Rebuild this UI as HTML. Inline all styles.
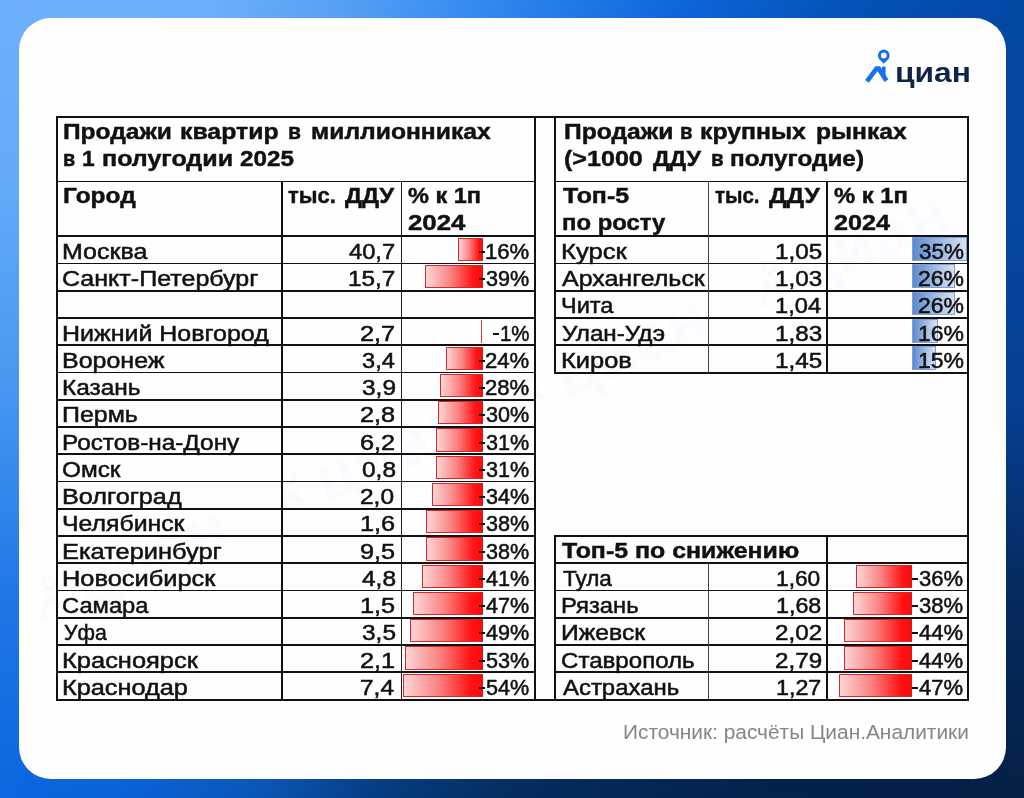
<!DOCTYPE html>
<html lang="ru"><head><meta charset="utf-8"><title>Циан</title>
<style>
html,body{margin:0;padding:0}
body{width:1024px;height:798px;overflow:hidden;position:relative;font-family:"Liberation Sans",sans-serif;color:#111;background:#0d5fd6}
.bg{position:absolute;left:0;top:0;width:1024px;height:798px}
.bg1{background:linear-gradient(90deg,#0a66e0 0%,#0a62d8 12%,#0b56b8 25%,#063c80 37%,#052c5e 50%,#04224a 75%,#042046 100%)}
.bg2{background:linear-gradient(90deg,#6eb1fa 0%,#6cb0fa 20%,#57a1f5 33%,#2f86ee 49%,#0e66dc 66%,#0452b6 83%,#0448a6 100%);
-webkit-mask-image:linear-gradient(180deg,#000 0%,rgba(0,0,0,.9) 25%,rgba(0,0,0,.72) 50%,rgba(0,0,0,.24) 75%,transparent 100%);mask-image:linear-gradient(180deg,#000 0%,rgba(0,0,0,.9) 25%,rgba(0,0,0,.72) 50%,rgba(0,0,0,.24) 75%,transparent 100%)}
.bgL{position:absolute;left:0;top:0;width:19px;height:798px;background:linear-gradient(180deg,#6eb1fa 0%,#62a9f8 25%,#4596f1 50%,#1f76e6 75%,#0b66df 100%)}
.bgR{position:absolute;right:0;top:0;width:19px;height:798px;background:linear-gradient(180deg,#0448a6 0%,#0447a4 25%,#063f94 50%,#052a5c 75%,#042046 100%)}
.card{position:absolute;left:18.5px;top:18px;width:987px;height:761px;border-radius:32px;background:#fefefe}
.wmc{position:absolute;left:18.5px;top:18px;width:987px;height:761px;border-radius:32px;overflow:hidden}
.wm{position:absolute;left:-360px;top:340px;width:1700px;height:80px;line-height:80px;transform:rotate(-23.6deg) translateX(62px);transform-origin:50% 50%;white-space:nowrap;font-weight:bold;font-size:66px;color:rgba(60,140,240,0.026);letter-spacing:1px}
.wu{display:inline-block;width:262px}
.l{position:absolute;display:block}
.t{position:absolute;white-space:nowrap;line-height:1;display:block;font-size:21.3px;transform-origin:0 50%;-webkit-text-stroke:0.3px #111}
.bn{position:absolute;display:block;box-sizing:border-box;border:1px solid #d92626;border-right-color:#c81e1e;background:linear-gradient(90deg,#fcd6d6 0%,#fb8080 45%,#ff1414 85%,#ff0a0a 100%)}
.bp{position:absolute;display:block;box-sizing:border-box;border:1px solid #7f9fd6;background:linear-gradient(90deg,#5b8ad0 0%,#a3bce4 55%,#d6e1f3 100%)}
</style></head><body>
<div class="bg bg1"></div><div class="bg bg2"></div><div class="bgL"></div><div class="bgR"></div>
<div class="card"></div>
<div class="wmc"><div class="wm"><span class="wu"><svg width="46" height="62" viewBox="0 0 36 44" style="vertical-align:-6px;margin-right:8px"><circle cx="23.8" cy="11.4" r="4.35" fill="none" stroke="currentColor" stroke-width="3"/><path d="M19.2 15 L23.8 19.8 L28.4 15 Z" fill="currentColor"/><path d="M7 37.4 L17.8 22.9 L26.4 36.8" fill="none" stroke="currentColor" stroke-width="4.7"/><rect x="22" y="22.5" width="3.6" height="10" fill="currentColor"/></svg>циан</span><span class="wu"><svg width="46" height="62" viewBox="0 0 36 44" style="vertical-align:-6px;margin-right:8px"><circle cx="23.8" cy="11.4" r="4.35" fill="none" stroke="currentColor" stroke-width="3"/><path d="M19.2 15 L23.8 19.8 L28.4 15 Z" fill="currentColor"/><path d="M7 37.4 L17.8 22.9 L26.4 36.8" fill="none" stroke="currentColor" stroke-width="4.7"/><rect x="22" y="22.5" width="3.6" height="10" fill="currentColor"/></svg>циан</span><span class="wu"><svg width="46" height="62" viewBox="0 0 36 44" style="vertical-align:-6px;margin-right:8px"><circle cx="23.8" cy="11.4" r="4.35" fill="none" stroke="currentColor" stroke-width="3"/><path d="M19.2 15 L23.8 19.8 L28.4 15 Z" fill="currentColor"/><path d="M7 37.4 L17.8 22.9 L26.4 36.8" fill="none" stroke="currentColor" stroke-width="4.7"/><rect x="22" y="22.5" width="3.6" height="10" fill="currentColor"/></svg>циан</span><span class="wu"><svg width="46" height="62" viewBox="0 0 36 44" style="vertical-align:-6px;margin-right:8px"><circle cx="23.8" cy="11.4" r="4.35" fill="none" stroke="currentColor" stroke-width="3"/><path d="M19.2 15 L23.8 19.8 L28.4 15 Z" fill="currentColor"/><path d="M7 37.4 L17.8 22.9 L26.4 36.8" fill="none" stroke="currentColor" stroke-width="4.7"/><rect x="22" y="22.5" width="3.6" height="10" fill="currentColor"/></svg>циан</span><span class="wu"><svg width="46" height="62" viewBox="0 0 36 44" style="vertical-align:-6px;margin-right:8px"><circle cx="23.8" cy="11.4" r="4.35" fill="none" stroke="currentColor" stroke-width="3"/><path d="M19.2 15 L23.8 19.8 L28.4 15 Z" fill="currentColor"/><path d="M7 37.4 L17.8 22.9 L26.4 36.8" fill="none" stroke="currentColor" stroke-width="4.7"/><rect x="22" y="22.5" width="3.6" height="10" fill="currentColor"/></svg>циан</span></div></div>
<svg class="l" style="left:860px;top:44px" width="36" height="44" viewBox="0 0 36 44">
<defs><clipPath id="cp"><rect x="0" y="22.3" width="36" height="22"/></clipPath></defs>
<circle cx="23.8" cy="11.4" r="4.35" fill="none" stroke="#1a6de6" stroke-width="3"/>
<path d="M19.2 15.0 L23.8 19.8 L28.4 15.0 Z" fill="#1a6de6"/>
<g clip-path="url(#cp)"><path d="M7.0 37.4 L17.8 22.9 L26.4 36.8" fill="none" stroke="#1673ee" stroke-width="4.7" stroke-linejoin="miter" stroke-miterlimit="10"/></g>
<rect x="22.0" y="22.5" width="3.6" height="10" fill="#1673ee"/>
</svg>
<i class="bn" style="left:457.62px;top:237.70px;width:25.18px;height:23.15px"></i>
<i class="bn" style="left:424.73px;top:264.95px;width:58.07px;height:23.15px"></i>
<i class="l" style="left:480.80px;top:320.04px;width:1.7px;height:23.25px;background:#d23c3c"></i>
<i class="bn" style="left:446.18px;top:346.69px;width:36.62px;height:23.15px"></i>
<i class="bn" style="left:440.46px;top:373.94px;width:42.34px;height:23.15px"></i>
<i class="bn" style="left:437.60px;top:401.18px;width:45.20px;height:23.15px"></i>
<i class="bn" style="left:436.17px;top:428.43px;width:46.63px;height:23.15px"></i>
<i class="bn" style="left:436.17px;top:455.68px;width:46.63px;height:23.15px"></i>
<i class="bn" style="left:431.88px;top:482.92px;width:50.92px;height:23.15px"></i>
<i class="bn" style="left:426.16px;top:510.17px;width:56.64px;height:23.15px"></i>
<i class="bn" style="left:426.16px;top:537.42px;width:56.64px;height:23.15px"></i>
<i class="bn" style="left:421.87px;top:564.66px;width:60.93px;height:23.15px"></i>
<i class="bn" style="left:413.29px;top:591.91px;width:69.51px;height:23.15px"></i>
<i class="bn" style="left:410.43px;top:619.16px;width:72.37px;height:23.15px"></i>
<i class="bn" style="left:404.71px;top:646.41px;width:78.09px;height:23.15px"></i>
<i class="bn" style="left:403.28px;top:673.65px;width:79.52px;height:23.15px"></i>
<i class="bp" style="left:912.20px;top:237.20px;width:54.80px;height:23.65px"></i>
<i class="bp" style="left:912.20px;top:264.45px;width:42.60px;height:23.65px"></i>
<i class="bp" style="left:912.20px;top:291.69px;width:42.60px;height:23.65px"></i>
<i class="bp" style="left:912.20px;top:318.94px;width:25.70px;height:23.65px"></i>
<i class="bp" style="left:912.20px;top:346.19px;width:24.30px;height:23.65px"></i>
<i class="bn" style="left:856.16px;top:564.66px;width:56.34px;height:23.15px"></i>
<i class="bn" style="left:853.03px;top:591.91px;width:59.47px;height:23.15px"></i>
<i class="bn" style="left:843.64px;top:619.16px;width:68.86px;height:23.15px"></i>
<i class="bn" style="left:843.64px;top:646.41px;width:68.86px;height:23.15px"></i>
<i class="bn" style="left:838.95px;top:673.65px;width:73.55px;height:23.15px"></i>
<i class="l" style="left:56.00px;top:115.50px;width:913.00px;height:2px;background:#111"></i>
<i class="l" style="left:56.00px;top:698.50px;width:913.00px;height:2px;background:#111"></i>
<i class="l" style="left:56.00px;top:116.50px;width:2px;height:583.00px;background:#111"></i>
<i class="l" style="left:534.00px;top:116.50px;width:2px;height:583.00px;background:#111"></i>
<i class="l" style="left:967.00px;top:116.50px;width:2px;height:583.00px;background:#111"></i>
<i class="l" style="left:554.00px;top:116.50px;width:2px;height:256.04px;background:#111"></i>
<i class="l" style="left:554.00px;top:536.02px;width:2px;height:163.48px;background:#111"></i>
<i class="l" style="left:57.00px;top:180.70px;width:478.00px;height:1.6px;background:#111"></i>
<i class="l" style="left:57.00px;top:235.30px;width:478.00px;height:2px;background:#111"></i>
<i class="l" style="left:57.00px;top:262.70px;width:478.00px;height:1.7px;background:#111"></i>
<i class="l" style="left:57.00px;top:289.94px;width:478.00px;height:1.7px;background:#111"></i>
<i class="l" style="left:57.00px;top:317.19px;width:478.00px;height:1.7px;background:#111"></i>
<i class="l" style="left:57.00px;top:344.44px;width:478.00px;height:1.7px;background:#111"></i>
<i class="l" style="left:57.00px;top:371.69px;width:478.00px;height:1.7px;background:#111"></i>
<i class="l" style="left:57.00px;top:398.93px;width:478.00px;height:1.7px;background:#111"></i>
<i class="l" style="left:57.00px;top:426.18px;width:478.00px;height:1.7px;background:#111"></i>
<i class="l" style="left:57.00px;top:453.43px;width:478.00px;height:1.7px;background:#111"></i>
<i class="l" style="left:57.00px;top:480.67px;width:478.00px;height:1.7px;background:#111"></i>
<i class="l" style="left:57.00px;top:507.92px;width:478.00px;height:1.7px;background:#111"></i>
<i class="l" style="left:57.00px;top:535.17px;width:478.00px;height:1.7px;background:#111"></i>
<i class="l" style="left:57.00px;top:562.41px;width:478.00px;height:1.7px;background:#111"></i>
<i class="l" style="left:57.00px;top:589.66px;width:478.00px;height:1.7px;background:#111"></i>
<i class="l" style="left:57.00px;top:616.91px;width:478.00px;height:1.7px;background:#111"></i>
<i class="l" style="left:57.00px;top:644.16px;width:478.00px;height:1.7px;background:#111"></i>
<i class="l" style="left:57.00px;top:671.40px;width:478.00px;height:1.7px;background:#111"></i>
<i class="l" style="left:281.45px;top:181.50px;width:1.7px;height:518.00px;background:#111"></i>
<i class="l" style="left:400.65px;top:181.50px;width:1.3px;height:518.00px;background:#222"></i>
<i class="l" style="left:555.00px;top:180.70px;width:413.00px;height:1.6px;background:#111"></i>
<i class="l" style="left:555.00px;top:235.30px;width:413.00px;height:2px;background:#111"></i>
<i class="l" style="left:555.00px;top:262.70px;width:413.00px;height:1.7px;background:#111"></i>
<i class="l" style="left:555.00px;top:289.94px;width:413.00px;height:1.7px;background:#111"></i>
<i class="l" style="left:555.00px;top:317.19px;width:413.00px;height:1.7px;background:#111"></i>
<i class="l" style="left:555.00px;top:344.44px;width:413.00px;height:1.7px;background:#111"></i>
<i class="l" style="left:554.00px;top:371.54px;width:414.00px;height:2px;background:#111"></i>
<i class="l" style="left:707.85px;top:181.50px;width:1.1px;height:191.04px;background:#444"></i>
<i class="l" style="left:826.35px;top:181.50px;width:1.7px;height:191.04px;background:#111"></i>
<i class="l" style="left:554.00px;top:535.02px;width:414.00px;height:2px;background:#111"></i>
<i class="l" style="left:555.00px;top:562.26px;width:413.00px;height:2px;background:#111"></i>
<i class="l" style="left:555.00px;top:589.66px;width:413.00px;height:1.7px;background:#111"></i>
<i class="l" style="left:555.00px;top:616.91px;width:413.00px;height:1.7px;background:#111"></i>
<i class="l" style="left:555.00px;top:644.16px;width:413.00px;height:1.7px;background:#111"></i>
<i class="l" style="left:555.00px;top:671.40px;width:413.00px;height:1.7px;background:#111"></i>
<i class="l" style="left:707.85px;top:563.26px;width:1.1px;height:136.24px;background:#444"></i>
<i class="l" style="left:826.35px;top:536.02px;width:1.7px;height:163.48px;background:#111"></i>
<i class="l" style="left:478.80px;top:251px;width:6.00px;height:2.3px;background:#111"></i>
<i class="l" style="left:478.80px;top:278px;width:6.00px;height:2.3px;background:#111"></i>
<i class="l" style="left:493.20px;top:333px;width:5.80px;height:2.3px;background:#111"></i>
<i class="l" style="left:478.80px;top:360px;width:6.00px;height:2.3px;background:#111"></i>
<i class="l" style="left:478.80px;top:387px;width:6.00px;height:2.3px;background:#111"></i>
<i class="l" style="left:478.80px;top:414px;width:6.00px;height:2.3px;background:#111"></i>
<i class="l" style="left:478.80px;top:442px;width:6.00px;height:2.3px;background:#111"></i>
<i class="l" style="left:478.80px;top:469px;width:6.00px;height:2.3px;background:#111"></i>
<i class="l" style="left:478.80px;top:496px;width:6.00px;height:2.3px;background:#111"></i>
<i class="l" style="left:478.80px;top:523px;width:6.00px;height:2.3px;background:#111"></i>
<i class="l" style="left:478.80px;top:551px;width:6.00px;height:2.3px;background:#111"></i>
<i class="l" style="left:478.80px;top:578px;width:6.00px;height:2.3px;background:#111"></i>
<i class="l" style="left:478.80px;top:605px;width:6.00px;height:2.3px;background:#111"></i>
<i class="l" style="left:478.80px;top:632px;width:6.00px;height:2.3px;background:#111"></i>
<i class="l" style="left:478.80px;top:660px;width:6.00px;height:2.3px;background:#111"></i>
<i class="l" style="left:478.80px;top:687px;width:6.00px;height:2.3px;background:#111"></i>
<i class="l" style="left:912.30px;top:578px;width:5.30px;height:2.3px;background:#111"></i>
<i class="l" style="left:912.30px;top:605px;width:5.30px;height:2.3px;background:#111"></i>
<i class="l" style="left:912.30px;top:632px;width:5.30px;height:2.3px;background:#111"></i>
<i class="l" style="left:912.30px;top:660px;width:5.30px;height:2.3px;background:#111"></i>
<i class="l" style="left:912.30px;top:687px;width:5.30px;height:2.3px;background:#111"></i>
<span class="t" style="left:63.48px;top:121.00px;transform:scaleX(1.1248);font-size:21.8px;font-weight:bold;-webkit-text-stroke:0.45px;">Продажи</span>
<span class="t" style="left:180.26px;top:121.00px;transform:scaleX(1.1391);font-size:21.8px;font-weight:bold;-webkit-text-stroke:0.45px;">квартир</span>
<span class="t" style="left:288.23px;top:121.00px;transform:scaleX(0.9667);font-size:21.8px;font-weight:bold;-webkit-text-stroke:0.45px;">в</span>
<span class="t" style="left:310.87px;top:121.00px;transform:scaleX(1.1313);font-size:21.8px;font-weight:bold;-webkit-text-stroke:0.45px;">миллионниках</span>
<span class="t" style="left:63.39px;top:148.00px;transform:scaleX(0.9083);font-size:21.8px;font-weight:bold;-webkit-text-stroke:0.45px;">в</span>
<span class="t" style="left:82.45px;top:148.00px;transform:scaleX(1.0455);font-size:21.8px;font-weight:bold;-webkit-text-stroke:0.45px;">1</span>
<span class="t" style="left:101.85px;top:148.00px;transform:scaleX(1.1489);font-size:21.8px;font-weight:bold;-webkit-text-stroke:0.45px;">полугодии</span>
<span class="t" style="left:240.30px;top:148.00px;transform:scaleX(1.1103);font-size:21.8px;font-weight:bold;-webkit-text-stroke:0.45px;">2025</span>
<span class="t" style="left:63.48px;top:185.00px;transform:scaleX(1.1232);font-size:21.8px;font-weight:bold;-webkit-text-stroke:0.45px;">Город</span>
<span class="t" style="left:288.00px;top:185.00px;transform:scaleX(1.0062);font-size:21.8px;font-weight:bold;-webkit-text-stroke:0.45px;">тыс.</span>
<span class="t" style="left:345.00px;top:185.00px;transform:scaleX(1.0944);font-size:21.8px;font-weight:bold;-webkit-text-stroke:0.45px;">ДДУ</span>
<span class="t" style="left:407.70px;top:185.00px;transform:scaleX(1.0778);font-size:21.8px;font-weight:bold;-webkit-text-stroke:0.45px;">% к 1п</span>
<span class="t" style="left:407.70px;top:212.00px;transform:scaleX(1.1847);font-size:21.8px;font-weight:bold;-webkit-text-stroke:0.45px;">2024</span>
<span class="t" style="left:563.87px;top:121.00px;transform:scaleX(1.1301);font-size:21.8px;font-weight:bold;-webkit-text-stroke:0.45px;">Продажи</span>
<span class="t" style="left:680.37px;top:121.00px;transform:scaleX(0.9333);font-size:21.8px;font-weight:bold;-webkit-text-stroke:0.45px;">в</span>
<span class="t" style="left:700.46px;top:121.00px;transform:scaleX(1.1369);font-size:21.8px;font-weight:bold;-webkit-text-stroke:0.45px;">крупных</span>
<span class="t" style="left:816.17px;top:121.00px;transform:scaleX(1.1311);font-size:21.8px;font-weight:bold;-webkit-text-stroke:0.45px;">рынках</span>
<span class="t" style="left:564.35px;top:148.00px;transform:scaleX(1.1506);font-size:21.8px;font-weight:bold;-webkit-text-stroke:0.45px;">(&gt;1000</span>
<span class="t" style="left:653.20px;top:148.00px;transform:scaleX(1.0679);font-size:21.8px;font-weight:bold;-webkit-text-stroke:0.45px;">ДДУ</span>
<span class="t" style="left:710.56px;top:148.00px;transform:scaleX(0.9417);font-size:21.8px;font-weight:bold;-webkit-text-stroke:0.45px;">в</span>
<span class="t" style="left:730.48px;top:148.00px;transform:scaleX(1.1162);font-size:21.8px;font-weight:bold;-webkit-text-stroke:0.45px;">полугодие)</span>
<span class="t" style="left:562.60px;top:185.00px;transform:scaleX(1.1425);font-size:21.8px;font-weight:bold;-webkit-text-stroke:0.45px;">Топ-5</span>
<span class="t" style="left:562.30px;top:212.00px;transform:scaleX(1.0953);font-size:21.8px;font-weight:bold;-webkit-text-stroke:0.45px;">по росту</span>
<span class="t" style="left:715.00px;top:185.00px;transform:scaleX(0.9373);font-size:21.8px;font-weight:bold;-webkit-text-stroke:0.45px;">тыс.</span>
<span class="t" style="left:769.30px;top:185.00px;transform:scaleX(1.1297);font-size:21.8px;font-weight:bold;-webkit-text-stroke:0.45px;">ДДУ</span>
<span class="t" style="left:833.50px;top:185.00px;transform:scaleX(1.0928);font-size:21.8px;font-weight:bold;-webkit-text-stroke:0.45px;">% к 1п</span>
<span class="t" style="left:833.50px;top:212.00px;transform:scaleX(1.1557);font-size:21.8px;font-weight:bold;-webkit-text-stroke:0.45px;">2024</span>
<span class="t" style="left:562.30px;top:540.00px;transform:scaleX(1.1429);font-size:21.8px;font-weight:bold;-webkit-text-stroke:0.45px;">Топ-5 по снижению</span>
<span class="t" style="left:62.33px;top:242.00px;transform:scaleX(1.1730);font-size:21.3px;-webkit-text-stroke:0.5px;">Москва</span>
<span class="t" style="left:349.40px;top:242.00px;transform:scaleX(1.1131);font-size:21.3px;-webkit-text-stroke:0.5px;">40,7</span>
<span class="t" style="left:485.26px;top:242.00px;transform:scaleX(1.0387);font-size:21.3px;-webkit-text-stroke:0.5px;">16%</span>
<span class="t" style="left:62.32px;top:269.00px;transform:scaleX(1.1759);font-size:21.3px;-webkit-text-stroke:0.5px;">Санкт-Петербург</span>
<span class="t" style="left:348.26px;top:269.00px;transform:scaleX(1.1413);font-size:21.3px;-webkit-text-stroke:0.5px;">15,7</span>
<span class="t" style="left:486.30px;top:269.00px;transform:scaleX(1.0143);font-size:21.3px;-webkit-text-stroke:0.5px;">39%</span>
<span class="t" style="left:62.33px;top:324.00px;transform:scaleX(1.1723);font-size:21.3px;-webkit-text-stroke:0.5px;">Нижний Новгород</span>
<span class="t" style="left:360.41px;top:324.00px;transform:scaleX(1.1887);font-size:21.3px;-webkit-text-stroke:0.5px;">2,7</span>
<span class="t" style="left:500.04px;top:324.00px;transform:scaleX(0.9583);font-size:21.3px;-webkit-text-stroke:0.5px;">1%</span>
<span class="t" style="left:62.33px;top:351.00px;transform:scaleX(1.1733);font-size:21.3px;-webkit-text-stroke:0.5px;">Воронеж</span>
<span class="t" style="left:361.60px;top:351.00px;transform:scaleX(1.1088);font-size:21.3px;-webkit-text-stroke:0.5px;">3,4</span>
<span class="t" style="left:485.26px;top:351.00px;transform:scaleX(1.0387);font-size:21.3px;-webkit-text-stroke:0.5px;">24%</span>
<span class="t" style="left:62.35px;top:378.00px;transform:scaleX(1.1472);font-size:21.3px;-webkit-text-stroke:0.5px;">Казань</span>
<span class="t" style="left:361.60px;top:378.00px;transform:scaleX(1.1474);font-size:21.3px;-webkit-text-stroke:0.5px;">3,9</span>
<span class="t" style="left:485.26px;top:378.00px;transform:scaleX(1.0387);font-size:21.3px;-webkit-text-stroke:0.5px;">28%</span>
<span class="t" style="left:62.33px;top:405.00px;transform:scaleX(1.1707);font-size:21.3px;-webkit-text-stroke:0.5px;">Пермь</span>
<span class="t" style="left:360.41px;top:405.00px;transform:scaleX(1.1887);font-size:21.3px;-webkit-text-stroke:0.5px;">2,8</span>
<span class="t" style="left:486.30px;top:405.00px;transform:scaleX(1.0143);font-size:21.3px;-webkit-text-stroke:0.5px;">30%</span>
<span class="t" style="left:62.36px;top:433.00px;transform:scaleX(1.1425);font-size:21.3px;-webkit-text-stroke:0.5px;">Ростов-на-Дону</span>
<span class="t" style="left:360.41px;top:433.00px;transform:scaleX(1.1887);font-size:21.3px;-webkit-text-stroke:0.5px;">6,2</span>
<span class="t" style="left:486.30px;top:433.00px;transform:scaleX(1.0143);font-size:21.3px;-webkit-text-stroke:0.5px;">31%</span>
<span class="t" style="left:62.36px;top:460.00px;transform:scaleX(1.1425);font-size:21.3px;-webkit-text-stroke:0.5px;">Омск</span>
<span class="t" style="left:361.60px;top:460.00px;transform:scaleX(1.1474);font-size:21.3px;-webkit-text-stroke:0.5px;">0,8</span>
<span class="t" style="left:486.30px;top:460.00px;transform:scaleX(1.0143);font-size:21.3px;-webkit-text-stroke:0.5px;">31%</span>
<span class="t" style="left:62.32px;top:487.00px;transform:scaleX(1.1838);font-size:21.3px;-webkit-text-stroke:0.5px;">Волгоград</span>
<span class="t" style="left:360.45px;top:487.00px;transform:scaleX(1.1474);font-size:21.3px;-webkit-text-stroke:0.5px;">2,0</span>
<span class="t" style="left:486.30px;top:487.00px;transform:scaleX(1.0143);font-size:21.3px;-webkit-text-stroke:0.5px;">34%</span>
<span class="t" style="left:62.33px;top:514.00px;transform:scaleX(1.1651);font-size:21.3px;-webkit-text-stroke:0.5px;">Челябинск</span>
<span class="t" style="left:360.41px;top:514.00px;transform:scaleX(1.1887);font-size:21.3px;-webkit-text-stroke:0.5px;">1,6</span>
<span class="t" style="left:486.30px;top:514.00px;transform:scaleX(1.0143);font-size:21.3px;-webkit-text-stroke:0.5px;">38%</span>
<span class="t" style="left:62.31px;top:542.00px;transform:scaleX(1.1928);font-size:21.3px;-webkit-text-stroke:0.5px;">Екатеринбург</span>
<span class="t" style="left:360.41px;top:542.00px;transform:scaleX(1.1887);font-size:21.3px;-webkit-text-stroke:0.5px;">9,5</span>
<span class="t" style="left:486.30px;top:542.00px;transform:scaleX(1.0143);font-size:21.3px;-webkit-text-stroke:0.5px;">38%</span>
<span class="t" style="left:62.31px;top:569.00px;transform:scaleX(1.1928);font-size:21.3px;-webkit-text-stroke:0.5px;">Новосибирск</span>
<span class="t" style="left:361.60px;top:569.00px;transform:scaleX(1.1474);font-size:21.3px;-webkit-text-stroke:0.5px;">4,8</span>
<span class="t" style="left:486.30px;top:569.00px;transform:scaleX(1.0143);font-size:21.3px;-webkit-text-stroke:0.5px;">41%</span>
<span class="t" style="left:62.39px;top:596.00px;transform:scaleX(1.1134);font-size:21.3px;-webkit-text-stroke:0.5px;">Самара</span>
<span class="t" style="left:360.41px;top:596.00px;transform:scaleX(1.1887);font-size:21.3px;-webkit-text-stroke:0.5px;">1,5</span>
<span class="t" style="left:486.30px;top:596.00px;transform:scaleX(1.0143);font-size:21.3px;-webkit-text-stroke:0.5px;">47%</span>
<span class="t" style="left:63.50px;top:623.00px;transform:scaleX(0.9965);font-size:21.3px;-webkit-text-stroke:0.5px;">Уфа</span>
<span class="t" style="left:361.60px;top:623.00px;transform:scaleX(1.1474);font-size:21.3px;-webkit-text-stroke:0.5px;">3,5</span>
<span class="t" style="left:486.30px;top:623.00px;transform:scaleX(1.0143);font-size:21.3px;-webkit-text-stroke:0.5px;">49%</span>
<span class="t" style="left:62.30px;top:651.00px;transform:scaleX(1.1952);font-size:21.3px;-webkit-text-stroke:0.5px;">Красноярск</span>
<span class="t" style="left:360.41px;top:651.00px;transform:scaleX(1.1887);font-size:21.3px;-webkit-text-stroke:0.5px;">2,1</span>
<span class="t" style="left:486.30px;top:651.00px;transform:scaleX(1.0143);font-size:21.3px;-webkit-text-stroke:0.5px;">53%</span>
<span class="t" style="left:62.31px;top:678.00px;transform:scaleX(1.1877);font-size:21.3px;-webkit-text-stroke:0.5px;">Краснодар</span>
<span class="t" style="left:360.45px;top:678.00px;transform:scaleX(1.1474);font-size:21.3px;-webkit-text-stroke:0.5px;">7,4</span>
<span class="t" style="left:486.30px;top:678.00px;transform:scaleX(1.0143);font-size:21.3px;-webkit-text-stroke:0.5px;">54%</span>
<span class="t" style="left:561.10px;top:242.00px;transform:scaleX(1.2024);font-size:21.3px;-webkit-text-stroke:0.5px;">Курск</span>
<span class="t" style="left:775.06px;top:242.00px;transform:scaleX(1.1387);font-size:21.3px;-webkit-text-stroke:0.5px;">1,05</span>
<span class="t" style="left:919.00px;top:242.00px;transform:scaleX(1.0541);font-size:21.3px;-webkit-text-stroke:0.5px;">35%</span>
<span class="t" style="left:562.30px;top:269.00px;transform:scaleX(1.1729);font-size:21.3px;-webkit-text-stroke:0.5px;">Архангельск</span>
<span class="t" style="left:775.06px;top:269.00px;transform:scaleX(1.1387);font-size:21.3px;-webkit-text-stroke:0.5px;">1,03</span>
<span class="t" style="left:917.92px;top:269.00px;transform:scaleX(1.0794);font-size:21.3px;-webkit-text-stroke:0.5px;">26%</span>
<span class="t" style="left:561.19px;top:296.00px;transform:scaleX(1.1050);font-size:21.3px;-webkit-text-stroke:0.5px;">Чита</span>
<span class="t" style="left:775.09px;top:296.00px;transform:scaleX(1.1107);font-size:21.3px;-webkit-text-stroke:0.5px;">1,04</span>
<span class="t" style="left:917.92px;top:296.00px;transform:scaleX(1.0794);font-size:21.3px;-webkit-text-stroke:0.5px;">26%</span>
<span class="t" style="left:562.30px;top:324.00px;transform:scaleX(1.1364);font-size:21.3px;-webkit-text-stroke:0.5px;">Улан-Удэ</span>
<span class="t" style="left:775.06px;top:324.00px;transform:scaleX(1.1387);font-size:21.3px;-webkit-text-stroke:0.5px;">1,83</span>
<span class="t" style="left:917.92px;top:324.00px;transform:scaleX(1.0794);font-size:21.3px;-webkit-text-stroke:0.5px;">16%</span>
<span class="t" style="left:561.11px;top:351.00px;transform:scaleX(1.1933);font-size:21.3px;-webkit-text-stroke:0.5px;">Киров</span>
<span class="t" style="left:775.06px;top:351.00px;transform:scaleX(1.1387);font-size:21.3px;-webkit-text-stroke:0.5px;">1,45</span>
<span class="t" style="left:917.92px;top:351.00px;transform:scaleX(1.0794);font-size:21.3px;-webkit-text-stroke:0.5px;">15%</span>
<span class="t" style="left:562.50px;top:569.00px;transform:scaleX(1.0556);font-size:21.3px;-webkit-text-stroke:0.5px;">Тула</span>
<span class="t" style="left:776.43px;top:569.00px;transform:scaleX(1.0664);font-size:21.3px;-webkit-text-stroke:0.5px;">1,60</span>
<span class="t" style="left:919.30px;top:569.00px;transform:scaleX(1.0354);font-size:21.3px;-webkit-text-stroke:0.5px;">36%</span>
<span class="t" style="left:561.38px;top:596.00px;transform:scaleX(1.1170);font-size:21.3px;-webkit-text-stroke:0.5px;">Рязань</span>
<span class="t" style="left:776.41px;top:596.00px;transform:scaleX(1.0933);font-size:21.3px;-webkit-text-stroke:0.5px;">1,68</span>
<span class="t" style="left:919.30px;top:596.00px;transform:scaleX(1.0354);font-size:21.3px;-webkit-text-stroke:0.5px;">38%</span>
<span class="t" style="left:561.34px;top:623.00px;transform:scaleX(1.1619);font-size:21.3px;-webkit-text-stroke:0.5px;">Ижевск</span>
<span class="t" style="left:774.66px;top:623.00px;transform:scaleX(1.1362);font-size:21.3px;-webkit-text-stroke:0.5px;">2,02</span>
<span class="t" style="left:919.30px;top:623.00px;transform:scaleX(1.0354);font-size:21.3px;-webkit-text-stroke:0.5px;">44%</span>
<span class="t" style="left:561.37px;top:651.00px;transform:scaleX(1.1309);font-size:21.3px;-webkit-text-stroke:0.5px;">Ставрополь</span>
<span class="t" style="left:774.66px;top:651.00px;transform:scaleX(1.1362);font-size:21.3px;-webkit-text-stroke:0.5px;">2,79</span>
<span class="t" style="left:919.30px;top:651.00px;transform:scaleX(1.0354);font-size:21.3px;-webkit-text-stroke:0.5px;">44%</span>
<span class="t" style="left:562.50px;top:678.00px;transform:scaleX(1.1228);font-size:21.3px;-webkit-text-stroke:0.5px;">Астрахань</span>
<span class="t" style="left:776.41px;top:678.00px;transform:scaleX(1.0933);font-size:21.3px;-webkit-text-stroke:0.5px;">1,27</span>
<span class="t" style="left:919.30px;top:678.00px;transform:scaleX(1.0354);font-size:21.3px;-webkit-text-stroke:0.5px;">47%</span>
<span class="t" style="left:623.42px;top:723.00px;transform:scaleX(1.0823);font-size:19.3px;color:#868686;-webkit-text-stroke:0px;">Источник: расчёты Циан.Аналитики</span>
<span class="t" style="left:895.16px;top:59.00px;transform:scaleX(1.1360);font-size:28px;font-weight:bold;color:#0f2447;-webkit-text-stroke:0px;">циан</span>
</body></html>
